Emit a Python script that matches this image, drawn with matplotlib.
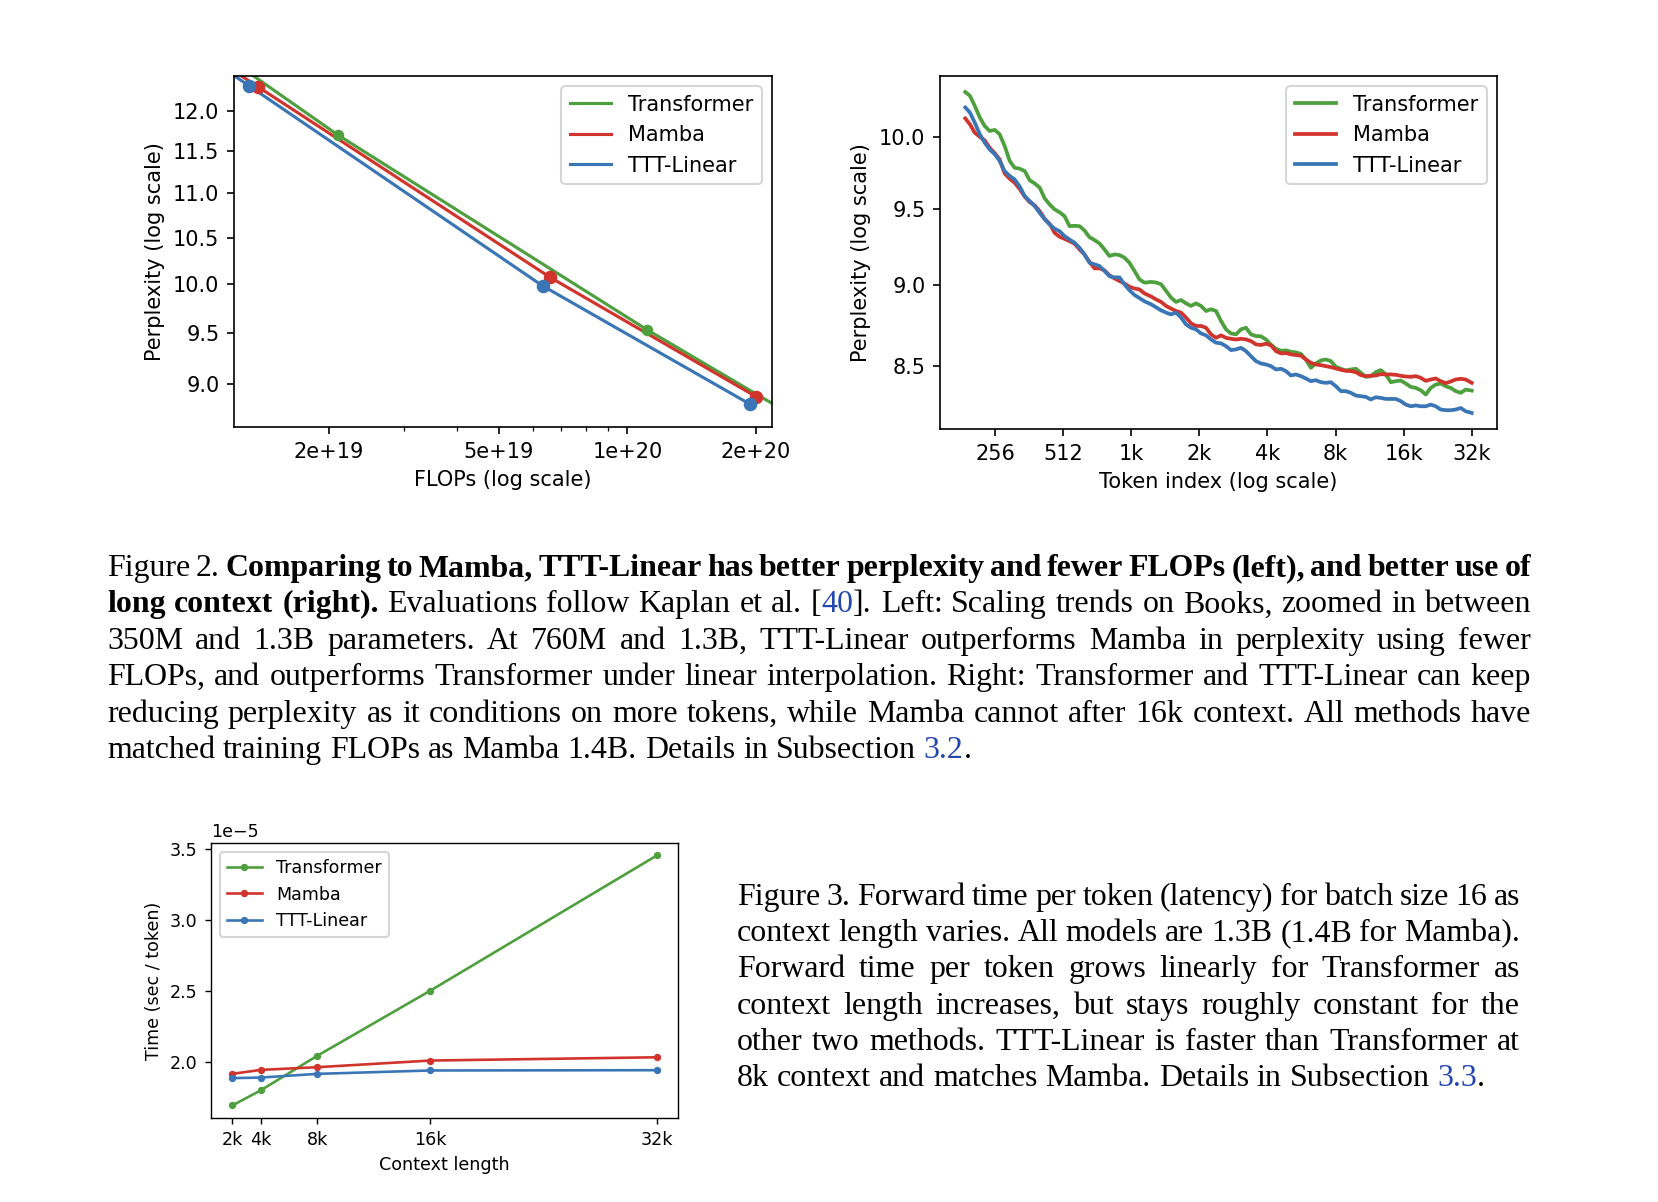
import matplotlib
matplotlib.use('Agg')
import matplotlib.pyplot as plt
from matplotlib.ticker import NullLocator, NullFormatter

GREEN = '#4e9f3d'
RED = '#d0342c'
BLUE = '#3a76b5'
LINK = '#2346b0'

# ---- data: scaling (left) ----
flops_tf = [1.0e19, 2.1e19, 1.11e20, 2.4e20]
ppl_tf = [12.95, 11.70, 9.53, 8.72]
flops_mamba = [0.9e19, 1.365e19, 6.59e19, 2.0e20]
ppl_mamba = [12.98, 12.31, 10.07, 8.88]
flops_ttt = [0.9e19, 1.303e19, 6.33e19, 1.935e20]
ppl_ttt = [12.94, 12.32, 9.98, 8.81]
flops_ticks = [2e19, 5e19, 1e20, 2e20]
flops_labels = ['2e+19', '5e+19', '1e+20', '2e+20']
ppl_ticks_left = [9.0, 9.5, 10.0, 10.5, 11.0, 11.5, 12.0]

# ---- data: perplexity by token index (right) ----
tokens = [189, 198, 208, 219, 230, 242, 255, 268, 282, 297, 312, 328, 346, 364, 383,
          403, 424, 446, 469, 493, 519, 546, 575, 605, 636, 669, 704, 741, 780, 820,
          863, 908, 955, 1005, 1058, 1113, 1171,
          1253, 1318, 1387, 1459, 1535, 1615, 1700, 1788, 1881, 1979, 2083, 2192, 2306,
          2426, 2553, 2686, 2826, 2973, 3128, 3291, 3463, 3643, 3833, 4034, 4245, 4466,
          4699, 4944, 5202, 5473, 5758, 6059, 6375, 6707, 7057, 7425, 7812, 8221, 8649,
          9100, 9575, 10074, 10599, 11152, 11733, 12345, 12989, 13667, 14379, 15130,
          15919, 16751, 17624, 18543, 19510, 20527, 21598, 22724, 23909, 25156, 26468,
          27848, 29300, 30828, 32768]
ctx_tf = [10.32, 10.293, 10.220, 10.136, 10.076, 10.040, 10.047, 10.017, 9.934, 9.829,
          9.782, 9.776, 9.759, 9.695, 9.674, 9.645, 9.572, 9.531, 9.498, 9.479, 9.453,
          9.386, 9.388, 9.386, 9.357, 9.313, 9.294, 9.272, 9.232, 9.190, 9.200, 9.196,
          9.179, 9.146, 9.093, 9.039, 9.018,
          9.023, 9.019, 9.008, 8.966, 8.923, 8.896, 8.908, 8.887, 8.871, 8.887, 8.871,
          8.839, 8.850, 8.839, 8.777, 8.725, 8.700, 8.694, 8.725, 8.735, 8.694, 8.684,
          8.682, 8.663, 8.631, 8.606, 8.594, 8.596, 8.588, 8.584, 8.575, 8.541, 8.491,
          8.517, 8.535, 8.541, 8.531, 8.497, 8.485, 8.475, 8.481, 8.485, 8.461, 8.437,
          8.441, 8.465, 8.477, 8.451, 8.405, 8.411, 8.415, 8.397, 8.377, 8.371, 8.357,
          8.332, 8.371, 8.391, 8.397, 8.381, 8.371, 8.352, 8.342, 8.361, 8.355]
ctx_mamba = [10.129, 10.088, 10.028, 9.998, 9.974, 9.922, 9.883, 9.840, 9.743, 9.706,
             9.679, 9.638, 9.584, 9.547, 9.525, 9.486, 9.435, 9.401, 9.342, 9.316, 9.302,
             9.287, 9.270, 9.232, 9.200, 9.152, 9.110, 9.110, 9.097, 9.065, 9.045, 9.029,
             9.013, 8.992, 8.981, 8.975, 8.950,
             8.930, 8.912, 8.896, 8.871, 8.854, 8.839, 8.829, 8.798, 8.762, 8.746, 8.746,
             8.735, 8.694, 8.673, 8.688, 8.673, 8.667, 8.663, 8.667, 8.663, 8.653, 8.633,
             8.629, 8.637, 8.627, 8.592, 8.578, 8.580, 8.572, 8.568, 8.564, 8.541, 8.521,
             8.511, 8.507, 8.501, 8.495, 8.487, 8.479, 8.473, 8.471, 8.465, 8.447, 8.441,
             8.443, 8.445, 8.453, 8.451, 8.451, 8.449, 8.443, 8.439, 8.437, 8.441, 8.431,
             8.413, 8.421, 8.427, 8.411, 8.399, 8.409, 8.421, 8.425, 8.421, 8.401]
ctx_ttt = [10.208, 10.172, 10.100, 10.017, 9.958, 9.910, 9.876, 9.829, 9.759, 9.725,
           9.702, 9.656, 9.588, 9.554, 9.520, 9.475, 9.431, 9.397, 9.369, 9.353, 9.320,
           9.298, 9.276, 9.243, 9.200, 9.146, 9.136, 9.125, 9.093, 9.059, 9.052, 9.052,
           9.007, 8.970, 8.940, 8.920, 8.900,
           8.881, 8.862, 8.843, 8.829, 8.818, 8.829, 8.798, 8.756, 8.735, 8.725, 8.700,
           8.688, 8.663, 8.643, 8.639, 8.622, 8.598, 8.602, 8.612, 8.592, 8.561, 8.531,
           8.517, 8.511, 8.501, 8.481, 8.485, 8.471, 8.445, 8.451, 8.441, 8.427, 8.411,
           8.417, 8.405, 8.401, 8.405, 8.381, 8.352, 8.352, 8.342, 8.326, 8.322, 8.318,
           8.303, 8.316, 8.312, 8.306, 8.306, 8.306, 8.293, 8.273, 8.263, 8.268, 8.263,
           8.263, 8.273, 8.263, 8.244, 8.240, 8.240, 8.244, 8.253, 8.234, 8.224]
token_ticks = [256, 512, 1024, 2048, 4096, 8192, 16384, 32768]
token_labels = ['256', '512', '1k', '2k', '4k', '8k', '16k', '32k']
ppl_ticks_right = [8.5, 9.0, 9.5, 10.0]

# ---- data: latency (bottom) ----
ctx_len = [2048, 4096, 8192, 16384, 32768]
ctx_len_labels = ['2k', '4k', '8k', '16k', '32k']
time_tf = [1.69e-5, 1.796e-5, 2.04e-5, 2.50e-5, 3.453e-5]
time_mamba = [1.913e-5, 1.941e-5, 1.96e-5, 2.007e-5, 2.03e-5]
time_ttt = [1.883e-5, 1.887e-5, 1.913e-5, 1.937e-5, 1.939e-5]

# ---- captions ----
fig2_lines = [
    "Figure 2. **Comparing to Mamba, TTT-Linear has better perplexity and fewer FLOPs (left), and better use of**",
    "**long context (right).** Evaluations follow Kaplan et al. [{40}]. Left: Scaling trends on Books, zoomed in between",
    "350M and 1.3B parameters.  At 760M and 1.3B, TTT-Linear outperforms Mamba in perplexity using fewer",
    "FLOPs, and outperforms Transformer under linear interpolation. Right: Transformer and TTT-Linear can keep",
    "reducing perplexity as it conditions on more tokens, while Mamba cannot after 16k context. All methods have",
    "matched training FLOPs as Mamba 1.4B. Details in Subsection {3.2}.",
]
fig3_lines = [
    "Figure 3. Forward time per token (latency) for batch size 16 as",
    "context length varies. All models are 1.3B (1.4B for Mamba).",
    "Forward time per token grows linearly for Transformer as",
    "context length increases, but stays roughly constant for the",
    "other two methods. TTT-Linear is faster than Transformer at",
    "8k context and matches Mamba. Details in Subsection {3.3}.",
]

W, H, DPI = 1658, 1202, 150
fig = plt.figure(figsize=(W / DPI, H / DPI), dpi=DPI)


def box(x0, y0, x1, y1):
    # pixel box (top-left origin) -> figure fraction rect
    return [x0 / W, 1 - y1 / H, (x1 - x0) / W, (y1 - y0) / H]


# left: perplexity vs flops
ax1 = fig.add_axes(box(234, 76, 772, 427))
for fl, pp, c, name in [(flops_tf, ppl_tf, GREEN, 'Transformer'),
                        (flops_mamba, ppl_mamba, RED, 'Mamba'),
                        (flops_ttt, ppl_ttt, BLUE, 'TTT-Linear')]:
    ax1.plot(fl, pp, color=c, linewidth=1.5, label=name)
ax1.plot(flops_tf, ppl_tf, 'o', color=GREEN, markersize=4.5)
ax1.plot(flops_mamba, ppl_mamba, 'o', color=RED, markersize=5.5)
ax1.plot(flops_ttt, ppl_ttt, 'o', color=BLUE, markersize=5.5)
ax1.set_xscale('log')
ax1.set_yscale('log')
ax1.set_xlim(1.2e19, 2.18e20)
ax1.set_ylim(8.60, 12.45)
ax1.set_xticks(flops_ticks, flops_labels)
ax1.xaxis.set_minor_formatter(NullFormatter())
ax1.set_yticks(ppl_ticks_left, ['%.1f' % v for v in ppl_ticks_left])
ax1.yaxis.set_minor_locator(NullLocator())
ax1.set_xlabel('FLOPs (log scale)')
ax1.set_ylabel('Perplexity (log scale)')
ax1.legend(loc='upper right')

# right: perplexity vs token index
ax2 = fig.add_axes(box(940, 76, 1497, 429))
ax2.plot(tokens, ctx_tf, color=GREEN, linewidth=1.8, label='Transformer')
ax2.plot(tokens, ctx_mamba, color=RED, linewidth=1.8, label='Mamba')
ax2.plot(tokens, ctx_ttt, color=BLUE, linewidth=1.8, label='TTT-Linear')
ax2.set_xscale('log', base=2)
ax2.set_yscale('log')
ax2.set_xticks(token_ticks, token_labels)
ax2.xaxis.set_minor_locator(NullLocator())
ax2.set_yticks(ppl_ticks_right, ['%.1f' % v for v in ppl_ticks_right])
ax2.yaxis.set_minor_locator(NullLocator())
ax2.set_xlabel('Token index (log scale)')
ax2.set_ylabel('Perplexity (log scale)')
ax2.legend(loc='upper right')

# bottom: latency, drawn at a smaller scale
s = 0.84
ax3 = fig.add_axes(box(211, 843, 678, 1118))
ax3.plot(ctx_len, time_tf, marker='.', color=GREEN, linewidth=1.5 * s, markersize=6 * s, label='Transformer')
ax3.plot(ctx_len, time_mamba, marker='.', color=RED, linewidth=1.5 * s, markersize=6 * s, label='Mamba')
ax3.plot(ctx_len, time_ttt, marker='.', color=BLUE, linewidth=1.5 * s, markersize=6 * s, label='TTT-Linear')
ax3.set_xticks(ctx_len, ctx_len_labels)
ax3.tick_params(labelsize=10 * s, length=3.5 * s, width=0.8 * s)
ax3.yaxis.get_offset_text().set_fontsize(10 * s)
for sp in ax3.spines.values():
    sp.set_linewidth(0.8 * s)
ax3.set_xlabel('Context length', fontsize=10 * s, labelpad=4 * s)
ax3.set_ylabel('Time (sec / token)', fontsize=10 * s, labelpad=4 * s)
ax3.legend(loc='upper left', fontsize=10 * s)

# captions: justified serif text placed word by word
CAP_FS = 15.3
SERIF = ['Liberation Serif', 'DejaVu Serif']


def parse_words(line):
    words, pieces = [], []
    buf = ''
    bold = blue = False
    i = 0
    while i < len(line):
        if line.startswith('**', i) or line[i] in '{} ':
            if buf:
                pieces.append((buf, bold, blue))
                buf = ''
            if line.startswith('**', i):
                bold = not bold
                i += 2
                continue
            c = line[i]
            if c == ' ':
                if pieces:
                    words.append(pieces)
                    pieces = []
            else:
                blue = c == '{'
            i += 1
            continue
        buf += line[i]
        i += 1
    if buf:
        pieces.append((buf, bold, blue))
    if pieces:
        words.append(pieces)
    return words


def draw_caption(lines, x0, x1, base0, dy):
    renderer = fig.canvas.get_renderer()
    space = 0.25 * CAP_FS * DPI / 72
    for n, line in enumerate(lines):
        y = base0 + n * dy
        items = []
        for word in parse_words(line):
            arts = []
            for text, bold, blue in word:
                t = fig.text(0, 1 - y / H, text, fontsize=CAP_FS, family=SERIF,
                             weight='bold' if bold else 'normal',
                             color=LINK if blue else 'black', va='baseline', ha='left')
                arts.append((t, t.get_window_extent(renderer).width))
            items.append(arts)
        total = sum(w for arts in items for _, w in arts)
        gap = space
        if n < len(lines) - 1 and len(items) > 1:
            gap = (x1 - x0 - total) / (len(items) - 1)
        x = x0
        for arts in items:
            for t, w in arts:
                t.set_x(x / W)
                x += w
            x += gap


draw_caption(fig2_lines, 107, 1531, 576, 36.4)
draw_caption(fig3_lines, 737, 1520, 905, 36.2)

fig.savefig('out.png', dpi=DPI)
